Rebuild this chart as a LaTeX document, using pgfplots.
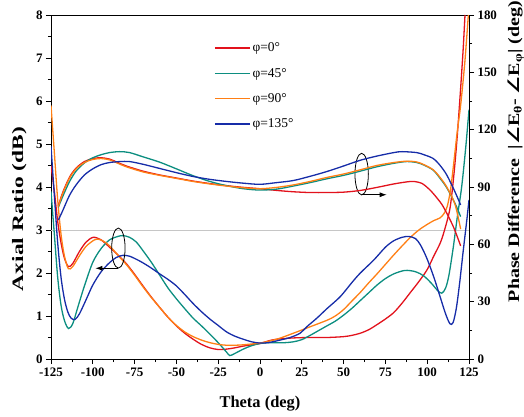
\documentclass[border=0pt]{standalone}
\usepackage{fontspec}
\setmainfont{Liberation Serif}
\newfontfamily\symfont{DejaVu Sans}
\usepackage{pgfplots}
\pgfplotsset{compat=1.18}
\usetikzlibrary{arrows.meta}

\definecolor{cRed}{RGB}{226,18,28}
\definecolor{cTeal}{RGB}{12,142,128}
\definecolor{cOrange}{RGB}{255,127,20}
\definecolor{cBlue}{RGB}{22,44,168}

\pgfplotsset{
  common/.style={
    width=418bp, height=344bp, scale only axis,
    xmin=-125, xmax=125,
    tick align=outside,
    major tick length=5bp, minor tick length=3bp,
    every tick/.style={black, line width=0.8bp},
    axis line style={line width=0.9bp},
    tick label style={font=\fontsize{13}{15}\selectfont\bfseries},
    /pgf/number format/assume math mode=true,
  },
  curve/.style={line width=1.3bp, smooth, tension=0.5},
}

\begin{document}
\begin{tikzpicture}
% ---------------- axial ratio (left axis) ----------------
\begin{axis}[common, name=main,
  ymin=0, ymax=8,
  xtick={-125,-100,...,125}, minor x tick num=1,
  ytick={0,1,...,8}, minor y tick num=1,
  xtick pos=lower, ytick pos=left,
  xlabel={Theta (deg)},
  xlabel style={font=\fontsize{16.5}{18}\selectfont\bfseries,
    at={([yshift=-48bp]axis description cs:0.5,0)}, anchor=base},
  ylabel={\scalebox{1.47}[1]{Axial Ratio (dB)}},
  ylabel style={font=\fontsize{16}{18}\selectfont\bfseries,
    at={([xshift=-28bp]axis description cs:0,0.436)}, anchor=base},
  legend style={at={(0.39,0.926)}, anchor=north west, draw=none, fill=none,
    font=\fontsize{13.5}{15}\selectfont, row sep=11bp, inner sep=0pt},
  legend cell align=left,
  legend image code/.code={\draw[#1, line width=1.4bp] (0bp,0bp) -- (35bp,0bp);},
]
% 3 dB reference line
\addplot[gray!45, line width=0.6bp, forget plot] coordinates {(-125,3) (125,3)};

\addplot[curve, cRed] coordinates {
(-125,4.5) (-123,3.9) (-121,3.2) (-119,2.7) (-117,2.35) (-114.6,2.15) (-112,2.22)
(-108,2.5) (-104,2.72) (-99.7,2.83) (-95,2.77) (-90,2.6) (-85,2.42) (-80,2.22)
(-75,1.97) (-70,1.7) (-65,1.44) (-60,1.2) (-55,0.97) (-50,0.77) (-45,0.6)
(-40,0.46) (-35,0.34) (-30,0.26) (-25,0.22) (-20,0.23) (-15,0.26) (-10,0.3)
(-5,0.33) (0,0.36) (5,0.42) (10,0.46) (20,0.49) (30,0.5) (40,0.5) (50,0.52)
(55,0.55) (60,0.6) (65,0.68) (70,0.8) (75,0.93) (80,1.08) (85,1.3) (90,1.55)
(95,1.8) (100,2.08) (104,2.4) (107.6,2.68) (110,2.95) (113.6,3.5) (116,4.3)
(118,5.2) (120,6.3) (121.5,7.2) (122.6,8)};
\addlegendentry{φ=0°}

\addplot[curve, cTeal] coordinates {
(-125,3.9) (-123,2.9) (-121,1.9) (-119,1.25) (-117,0.9) (-114.6,0.71) (-112,0.82)
(-109,1.2) (-105,1.7) (-100,2.25) (-95,2.57) (-90,2.77) (-85,2.85) (-82,2.87)
(-78,2.83) (-74,2.72) (-70,2.52) (-65,2.25) (-60,1.95) (-55,1.65) (-50,1.4)
(-45,1.17) (-40,0.95) (-35,0.77) (-30,0.58) (-25,0.38) (-20,0.16) (-18,0.08)
(-15,0.13) (-10,0.23) (-5,0.31) (0,0.36) (5,0.38) (10,0.38) (15,0.38) (20,0.4)
(25,0.45) (30,0.55) (35,0.66) (40,0.77) (45,0.88) (50,1.02) (55,1.18) (60,1.36)
(65,1.54) (70,1.72) (75,1.87) (80,1.98) (86.7,2.06) (93,2.03) (98,1.93)
(103,1.74) (106,1.6) (108.7,1.53) (111,1.65) (113,1.95) (115.6,2.6) (118,3.3)
(120.6,4.0) (123,4.9) (125,5.8)};
\addlegendentry{φ=45°}

\addplot[curve, cOrange] coordinates {
(-125,5.9) (-123,4.8) (-121,3.7) (-119,2.9) (-117,2.4) (-114.6,2.1) (-112,2.15)
(-108,2.4) (-104,2.62) (-99,2.77) (-96,2.78) (-92,2.7) (-88,2.55) (-84,2.37)
(-80,2.2) (-75,1.95) (-70,1.68) (-65,1.43) (-60,1.2) (-55,0.97) (-50,0.78)
(-45,0.63) (-40,0.52) (-35,0.44) (-30,0.38) (-25,0.34) (-20,0.32) (-15,0.32)
(-10,0.33) (-5,0.35) (0,0.37) (10,0.46) (20,0.6) (30,0.75) (40,0.9) (45,1.0)
(50,1.15) (55,1.35) (60,1.55) (65,1.77) (70,1.98) (75,2.2) (80,2.42) (85,2.63)
(90,2.83) (95,3.0) (100,3.13) (104,3.22) (107.6,3.28) (110,3.38) (112,3.55)
(114,3.95) (116,4.6) (118,5.3) (120,5.9) (122.5,6.9) (124.6,8)};
\addlegendentry{φ=90°}

\addplot[curve, cBlue] coordinates {
(-125,4.95) (-123,3.8) (-121,2.7) (-119,1.9) (-117,1.4) (-115,1.1) (-113,0.95)
(-110.6,0.92) (-108,1.05) (-104,1.38) (-100,1.72) (-95,2.03) (-90,2.24)
(-86,2.36) (-82,2.41) (-78,2.39) (-72,2.28) (-66,2.14) (-60,1.98) (-55,1.85)
(-50,1.7) (-45,1.5) (-40,1.29) (-35,1.1) (-30,0.93) (-25,0.78) (-20,0.63)
(-15,0.53) (-10,0.46) (-5,0.4) (0,0.37) (5,0.38) (12,0.44) (18,0.5) (24,0.6)
(28,0.75) (34,0.95) (40,1.17) (48,1.45) (55,1.78) (60,2.0) (68,2.3) (75,2.6)
(80,2.75) (85,2.83) (89,2.85) (93,2.8) (96,2.65) (99.7,2.35) (104,1.9)
(107.7,1.45) (111,1.05) (113.6,0.82) (115.5,0.85) (117.5,1.2) (119.5,1.8)
(121.5,2.5) (123.6,3.2) (125,3.7)};
\addlegendentry{φ=135°}

% group markers
\draw[line width=0.8bp] (axis cs:-84.7,2.58) ellipse [x radius=6.7bp, y radius=20bp];
\draw[line width=0.9bp, -{Latex[length=7bp,width=5bp]}] (axis cs:-84.7,2.11) -- (axis cs:-98.5,2.11);
\draw[line width=0.8bp] (axis cs:60.8,4.30) ellipse [x radius=6.7bp, y radius=20.8bp];
\draw[line width=0.9bp, -{Latex[length=7bp,width=5bp]}] (axis cs:60.8,3.82) -- (axis cs:75.8,3.82);
\end{axis}

% ---------------- phase difference (right axis) ----------------
\begin{axis}[common,
  ymin=0, ymax=180,
  axis x line=none, axis y line*=right, y axis line style={-},
  ytick={0,30,...,180}, minor y tick num=1, ytick pos=right,
  ylabel={\scalebox{1.25}[1]{Phase Difference\ \ |{\symfont\bfseries ∠}E\textsubscript{θ}- {\symfont\bfseries ∠}E\textsubscript{φ}| (deg)}},
  ylabel style={font=\fontsize{16}{18}\selectfont\bfseries,
    at={([xshift=50bp]axis description cs:1,0.603)}, anchor=base, rotate=0},
]
\addplot[curve, cRed] coordinates {
(-120.6,80.1) (-118,87.1) (-114,95.0) (-110,99.9) (-105,103.3) (-100,104.9)
(-95,105.3) (-90,104.6) (-85,102.8) (-80,101.0) (-70,98.3) (-60,96.3) (-50,94.7)
(-40,93.1) (-30,91.8) (-20,90.7) (-10,89.8) (0,89.1) (10,88.2) (20,87.5)
(30,87.1) (40,87.1) (50,87.3) (60,88.2) (70,89.8) (80,91.6) (88,92.7) (92,92.9)
(97,91.8) (101.7,88.4) (105.7,84.4) (109.6,79.7) (115.6,69.3) (120,59.2)};

\addplot[curve, cTeal] coordinates {
(-120.6,79.4) (-118,85.0) (-114,92.7) (-110,98.3) (-105,102.6) (-100,105.3)
(-95,106.9) (-90,108.0) (-84,108.5) (-78,108.0) (-70,105.8) (-60,103.0)
(-50,99.5) (-40,95.9) (-30,92.9) (-20,90.7) (-10,89.1) (0,88.4) (10,88.9)
(20,90.5) (30,92.3) (40,94.3) (50,96.1) (60,98.3) (70,100.6) (80,102.4)
(87.7,103.3) (93.7,102.8) (98,101.5) (103.6,98.8) (107.7,94.5) (111.7,89.6)
(116.6,81.5) (120,74.5)};

\addplot[curve, cOrange] coordinates {
(-120.6,79.7) (-118,86.6) (-114,94.5) (-110,99.5) (-105,102.8) (-100,104.4)
(-95,104.9) (-90,104.2) (-85,102.4) (-80,100.6) (-70,97.9) (-60,96.1) (-50,94.5)
(-40,92.9) (-30,91.6) (-20,90.5) (-10,89.6) (0,89.1) (10,89.8) (20,91.1)
(30,92.9) (40,95.0) (50,96.8) (60,99.0) (70,101.3) (80,102.8) (87.7,103.5)
(93.7,103.1) (98,101.7) (103.6,99.0) (107.7,95.0) (111.7,90.0) (116.6,81.0)
(120,68.0)};

\addplot[curve, cBlue] coordinates {
(-120.6,72.7) (-118,77.6) (-114,85.5) (-110,91.1) (-105,96.3) (-100,99.5)
(-95,101.7) (-90,102.8) (-84,103.3) (-78,103.3) (-70,101.9) (-60,99.7)
(-50,97.5) (-40,95.5) (-30,94.0) (-20,92.9) (-10,92.0) (0,91.4) (10,92.3)
(20,93.4) (30,95.6) (40,98.1) (50,101.0) (60,104.0) (70,106.2) (80,108.0)
(85,108.5) (93.7,108.0) (98,106.9) (103.6,104.9) (107.7,101.3) (111.7,96.3)
(116.6,87.5) (120,80.6)};
\end{axis}

\pgfresetboundingbox
\path[use as bounding box] ([xshift=-51bp,yshift=-58bp]main.south west)
  rectangle ([xshift=55bp,yshift=15bp]main.north east);
\end{tikzpicture}
\end{document}
